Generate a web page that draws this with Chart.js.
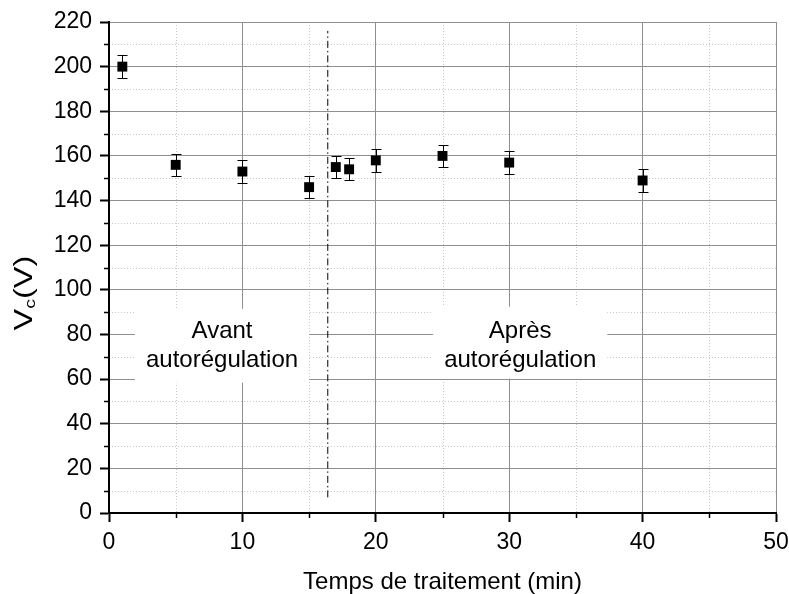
<!DOCTYPE html>
<html>
<head>
<meta charset="utf-8">
<script src="https://cdn.jsdelivr.net/npm/chart.js@4.4.1/dist/chart.umd.min.js"></script>
<style>
  html, body { margin: 0; padding: 0; background: #fff; overflow: hidden; }
  #wrap { width: 789px; height: 594px; position: relative; }
  canvas { display: block; }
</style>
</head>
<body>
<div id="wrap"><canvas id="myChart"></canvas></div>
<script>
// measured points (time in min, Vc in V, error bar half height)
const times = [1, 5, 10, 15, 17, 18, 20, 25, 30, 40];
const voltages = [200, 156, 153, 146, 155, 154, 158, 160, 157, 149];
const errors = [5, 5, 5, 5, 5, 5, 5, 5, 5, 5];

// dash-dot separator
const separatorX = [16.4, 16.4];
const separatorY = [7, 216];

// labelled ticks
const xTickLabels = [0, 10, 20, 30, 40, 50];
const yTickLabels = [0, 20, 40, 60, 80, 100, 120, 140, 160, 180, 200, 220];

const FONT = '"Liberation Sans", Arial, sans-serif';

// text boxes (in data units)
const notes = [
  { lines: ['Avant', 'autorégulation'], x0: 1.95, x1: 15.0, y0: 58.4, y1: 91.5 },
  { lines: ['Après', 'autorégulation'], x0: 24.3, x1: 37.35, y0: 60.2, y1: 92.4 }
];

const isMajorX = v => xTickLabels.includes(v);
const isMajorY = v => yTickLabels.includes(v);

const decor = {
  id: 'decor',
  beforeDraw(chart) {
    // minor dotted grid
    const { ctx, chartArea: a, scales: { x, y } } = chart;
    ctx.save();
    ctx.strokeStyle = '#c8c8c8';
    ctx.lineWidth = 1;
    ctx.setLineDash([1, 2]);
    x.ticks.forEach(t => {
      if (isMajorX(t.value)) return;
      const px = Math.round(x.getPixelForValue(t.value)) + 0.5;
      ctx.beginPath(); ctx.moveTo(px, a.top); ctx.lineTo(px, a.bottom); ctx.stroke();
    });
    y.ticks.forEach(t => {
      if (isMajorY(t.value)) return;
      const py = Math.round(y.getPixelForValue(t.value)) + 0.5;
      ctx.beginPath(); ctx.moveTo(a.left, py); ctx.lineTo(a.right, py); ctx.stroke();
    });
    ctx.restore();
  },
  beforeDatasetsDraw(chart) {
    const { ctx, scales: { x, y } } = chart;
    ctx.save();
    // white boxes with text
    notes.forEach(n => {
      const l = x.getPixelForValue(n.x0), r = x.getPixelForValue(n.x1);
      const t = y.getPixelForValue(n.y1), b = y.getPixelForValue(n.y0);
      ctx.fillStyle = '#fff';
      ctx.fillRect(l, t, r - l, b - t);
      ctx.fillStyle = '#000';
      ctx.font = '24px ' + FONT;
      ctx.textAlign = 'center';
      ctx.textBaseline = 'middle';
      const cx = (l + r) / 2;
      ctx.fillText(n.lines[0], cx, y.getPixelForValue(81.5));
      ctx.fillText(n.lines[1], cx, y.getPixelForValue(68.5));
    });
    // error bars
    ctx.strokeStyle = '#000';
    ctx.lineWidth = 1;
    times.forEach((t, i) => {
      const px = Math.round(x.getPixelForValue(t)) + 0.5;
      const top = Math.round(y.getPixelForValue(voltages[i] + errors[i])) + 0.5;
      const bot = Math.round(y.getPixelForValue(voltages[i] - errors[i])) + 0.5;
      ctx.beginPath();
      ctx.moveTo(px, top); ctx.lineTo(px, bot);
      ctx.moveTo(px - 5, top); ctx.lineTo(px + 5, top);
      ctx.moveTo(px - 5, bot); ctx.lineTo(px + 5, bot);
      ctx.stroke();
    });
    ctx.restore();
  },
  afterDraw(chart) {
    const { ctx, chartArea: a, scales: { x, y } } = chart;
    ctx.save();
    // minor ticks
    ctx.strokeStyle = '#000';
    ctx.lineWidth = 1.5;
    x.ticks.forEach(t => {
      if (isMajorX(t.value)) return;
      const px = Math.round(x.getPixelForValue(t.value)) + 0.5;
      ctx.beginPath(); ctx.moveTo(px, a.bottom); ctx.lineTo(px, a.bottom + 5); ctx.stroke();
    });
    y.ticks.forEach(t => {
      if (isMajorY(t.value)) return;
      const py = Math.round(y.getPixelForValue(t.value)) + 0.5;
      ctx.beginPath(); ctx.moveTo(a.left, py); ctx.lineTo(a.left - 5, py); ctx.stroke();
    });
    // axis titles
    ctx.fillStyle = '#000';
    ctx.font = '24px ' + FONT;
    ctx.textAlign = 'center';
    ctx.textBaseline = 'alphabetic';
    ctx.fillText('Temps de traitement (min)', (a.left + a.right) / 2, 589);

    ctx.translate(32, 293);
    ctx.rotate(-Math.PI / 2);
    ctx.scale(1.3, 1);
    ctx.textAlign = 'left';
    const big = '25px ' + FONT, small = '15px ' + FONT;
    ctx.font = big; const w1 = ctx.measureText('V').width;
    ctx.font = small; const w2 = ctx.measureText('c').width;
    ctx.font = big; const w3 = ctx.measureText('(V)').width;
    let cx = -(w1 + w2 + w3) / 2;
    ctx.font = big; ctx.fillText('V', cx, 0); cx += w1;
    ctx.font = small; ctx.fillText('c', cx, 3); cx += w2;
    ctx.font = big; ctx.fillText('(V)', cx, 0);
    ctx.restore();
  }
};

const ctx = document.getElementById('myChart').getContext('2d');

const myChart = new Chart(ctx, {
  type: 'scatter',
  data: {
    datasets: [
      {
        label: 'Vc',
        data: times.map((t, i) => ({ x: t, y: voltages[i] })),
        pointStyle: 'rect',
        pointRadius: 7,
        backgroundColor: '#000',
        borderColor: '#000',
        borderWidth: 0,
        showLine: false
      },
      {
        type: 'line',
        label: 'separator',
        data: separatorX.map((v, i) => ({ x: v, y: separatorY[i] })),
        borderColor: '#000',
        borderWidth: 1,
        borderDash: [7, 3, 1.5, 3],
        pointRadius: 0,
        fill: false
      }
    ]
  },
  options: {
    responsive: true,
    maintainAspectRatio: false,
    animation: false,
    events: [],
    layout: { autoPadding: false, padding: { top: 22, right: 13, left: 0, bottom: 0 } },
    plugins: {
      legend: { display: false },
      tooltip: { enabled: false }
    },
    scales: {
      x: {
        type: 'linear',
        min: 0,
        max: 50,
        // fixed height, and no extra room for the "50" label overflow
        afterFit(s) { s.height = 81; s.paddingLeft = 0; s.paddingRight = 0; },
        ticks: {
          stepSize: 5,
          autoSkip: false,
          maxRotation: 0,
          padding: 7,
          color: '#000',
          font: { family: FONT, size: 23 },
          callback: v => (isMajorX(v) ? String(v) : '')
        },
        grid: {
          color: c => (c.tick && isMajorX(c.tick.value) ? '#8f8f8f' : 'rgba(0,0,0,0)'),
          lineWidth: 1,
          tickLength: 9,
          tickWidth: 2,
          tickColor: c => (c.tick && isMajorX(c.tick.value) ? '#000' : 'rgba(0,0,0,0)')
        },
        border: { color: '#000', width: 2 }
      },
      y: {
        min: 0,
        max: 220,
        afterFit(s) { s.width = 109; s.paddingTop = 0; s.paddingBottom = 0; },
        ticks: {
          stepSize: 10,
          autoSkip: false,
          padding: 8,
          color: '#000',
          font: { family: FONT, size: 23 },
          callback: v => (isMajorY(v) ? String(v) : '')
        },
        grid: {
          color: c => (c.tick && isMajorY(c.tick.value) ? '#8f8f8f' : 'rgba(0,0,0,0)'),
          lineWidth: 1,
          tickLength: 9,
          tickWidth: 2,
          tickColor: c => (c.tick && isMajorY(c.tick.value) ? '#000' : 'rgba(0,0,0,0)')
        },
        border: { color: '#000', width: 2 }
      }
    }
  },
  plugins: [decor]
});
</script>
</body>
</html>
